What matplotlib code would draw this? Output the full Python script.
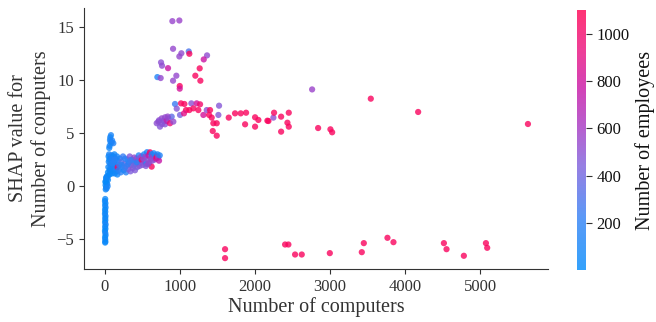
import matplotlib
matplotlib.use("Agg")
import matplotlib.pyplot as plt
from matplotlib.colors import LinearSegmentedColormap
import numpy as np

plt.rcParams['font.family'] = ['Liberation Serif', 'DejaVu Serif']

# number of computers, SHAP value, number of employees (colour)
n_computers = [
    # companies with (almost) no computers
    3, 0, 6, 2, 8, 1, 4, 0, 7, 3, 5, 1, 9, 2, 6, 0, 4, 8, 1, 3, 5, 2,
    10, 15, 8, 20, 12, 25, 18, 30, 35, 40, 22, 28, 45, 5, 15,
    80, 70, 67, 75, 89, 111, 57, 62, 95,
    # dense group below 750
    40, 45, 50, 48, 55, 60, 65, 70, 72, 80, 85, 90, 95, 100, 105, 110, 115,
    120, 125, 130, 135, 140, 150, 155, 160, 165, 170, 58, 75, 88, 108, 128,
    145, 62, 98, 169,
    180, 190, 200, 210, 220, 230, 240, 250, 260, 270, 280, 290, 300, 310,
    320, 330, 340, 350, 360, 370, 380, 390, 400, 410, 420, 430, 440, 450,
    460, 470, 480, 490, 225, 265, 305, 345, 385, 425, 465, 489,
    500, 510, 520, 530, 540, 550, 560, 570, 580, 590, 600, 610, 620, 622,
    630, 640, 650, 660, 670, 680, 689, 700, 710, 720, 730, 545, 575,
    # step up around 700-1000
    689, 711, 733, 756, 778, 800, 800, 822, 844, 867, 889, 911, 720, 760,
    835, 1000,
    933, 956, 1013, 1058, 1080, 1053, 1151, 1178, 1222, 1267, 1244, 1124,
    1311, 1356, 1400, 1520, 1511, 1422, 1387, 1444, 1489, 1436, 1489,
    # high values
    898, 991, 907, 1018, 991, 1116, 1124, 1360, 1316, 747, 760, 840, 1262,
    698, 742, 951, 907, 1204, 1271, 996, 996,
    # large companies
    1649, 1733, 1809, 1880, 1867, 2000, 2044, 2000, 2164, 2178, 2244, 2253,
    2347, 2347, 2449, 2431, 2449, 2840, 3004, 3027, 2760, 3542, 4173, 5636,
    # large companies, negative effect
    1600, 1600, 2400, 2444, 2533, 2622, 2996, 3422, 3449, 3764, 3844, 4516,
    4551, 4782, 5076, 5093,
]

shap_computers = [
    -1.2, -1.4, -1.6, -1.8, -2.0, -2.2, -2.4, -2.6, -2.8, -3.0, -3.2, -3.4,
    -3.6, -3.8, -4.0, -4.2, -4.4, -4.6, -4.8, -5.0, -5.2, -5.3,
    -0.3, -0.1, 0.1, 0.3, 0.5, 0.7, 0.85, 0.2, 0.0, 0.6, -0.2, 0.95, 1.0, 0.4, 0.75,
    4.8, 4.6, 4.35, 4.15, 4.1, 4.04, 3.6, 3.8, 4.3,
    1.3, 1.8, 2.3, 2.8, 3.0, 1.1, 1.6, 2.1, 2.6, 1.4, 2.0, 2.9, 1.2, 1.7, 2.4, 2.8, 1.5,
    2.2, 3.0, 1.2, 1.9, 2.6, 1.4, 2.1, 2.8, 1.1, 2.4, 2.5, 1.9, 2.55, 1.95, 2.5,
    1.7, 1.45, 2.15, 1.78,
    1.5, 2.0, 2.6, 1.3, 2.3, 1.8, 2.8, 1.5, 2.1, 2.6, 1.3, 1.9, 2.5, 1.6,
    2.2, 2.8, 1.4, 2.0, 2.5, 1.7, 2.3, 2.7, 1.5, 2.1, 2.6, 1.8, 2.4, 2.9,
    1.9, 2.5, 2.2, 2.8, 2.0, 1.7, 2.05, 2.45, 1.95, 2.25, 2.65, 2.47,
    2.0, 2.6, 3.0, 2.3, 2.8, 2.1, 3.2, 2.5, 2.9, 2.2, 3.19, 2.6, 3.0, 1.84,
    2.4, 2.8, 3.1, 2.5, 2.9, 2.6, 2.78, 3.0, 2.7, 2.4, 2.9, 1.9, 2.1,
    5.92, 6.07, 5.6, 6.38, 6.13, 6.48, 5.82, 6.13, 6.38, 5.92, 6.54, 6.07, 6.2, 5.85,
    6.55, 6.7,
    7.73, 7.29, 7.79, 7.73, 7.16, 6.85, 7.79, 7.32, 7.79, 7.7, 7.16, 7.16,
    6.7, 7.16, 7.16, 7.57, 6.7, 6.45, 6.7, 5.92, 5.92, 5.19, 4.75,
    15.52, 15.58, 12.92, 12.5, 12.2, 12.67, 12.45, 12.3, 11.92, 11.64, 11.33, 11.1, 11.08,
    10.26, 10.17, 10.39, 9.92, 10.39, 9.92, 9.42, 9.17,
    6.45, 6.85, 6.85, 6.91, 5.82, 6.48, 6.23, 5.6, 6.16, 6.13, 6.45, 6.91,
    6.54, 5.13, 6.91, 5.97, 5.6, 5.47, 5.35, 5.07, 9.1, 8.23, 6.98, 5.85,
    -5.92, -6.76, -5.48, -5.48, -6.42, -6.42, -6.29, -6.2, -5.35, -4.85, -5.26, -5.35,
    -5.92, -6.54, -5.35, -5.79,
]

n_employees = [
    60, 40, 90, 30, 110, 20, 70, 50, 100, 35, 80, 25, 120, 45, 65, 15, 85, 105, 30, 55, 75, 40,
    60, 80, 40, 100, 70, 120, 50, 90, 130, 60, 110, 80, 140, 30, 70,
    120, 90, 100, 130, 110, 150, 80, 95, 140,
    30, 60, 90, 50, 110, 40, 80, 120, 70, 100, 60, 140, 50, 90, 130, 70, 110,
    160, 80, 60, 150, 100, 90, 170, 120, 80, 140, 70, 110, 150, 90, 180,
    130, 60, 170, 1050,
    150, 220, 130, 180, 310, 160, 240, 120, 380, 200, 170, 450, 190, 420,
    150, 480, 440, 510, 210, 470, 160, 530, 460, 180, 500, 420, 540, 150,
    480, 190, 520, 560, 170, 230, 200, 260, 410, 190, 490, 1050,
    470, 500, 150, 520, 550, 160, 120, 480, 780, 500, 1050, 540, 140, 1050,
    520, 560, 130, 500, 160, 800, 1050, 140, 540, 760, 150, 480, 520,
    500, 520, 480, 540, 510, 530, 490, 700, 530, 950, 350, 520, 500, 490,
    540, 420,
    250, 480, 1050, 1050, 1050, 900, 500, 1050, 820, 1000, 1050, 1050,
    820, 520, 1050, 480, 480, 1050, 1050, 1050, 1050, 1050, 1050,
    550, 560, 540, 520, 540, 300, 1050, 520, 780, 500, 520, 780, 1050,
    150, 530, 540, 540, 1050, 1050, 1050, 820,
    1050, 1050, 1050, 1050, 1050, 1050, 1050, 1050, 1050, 1050, 520, 1050,
    1050, 1050, 1050, 1050, 1050, 1050, 1050, 1050, 560, 1050, 1050, 1050,
    1050, 1050, 1050, 1050, 1050, 1050, 1050, 1050, 1050, 1050, 1050, 1050,
    1050, 1050, 1050, 1050,
]

cb_ticks = [200, 400, 600, 800, 1000]

# blue -> purple -> red, similar to the shap palette
red_blue = LinearSegmentedColormap.from_list("red_blue", [
    (0.0, (0 / 255, 139 / 255, 251 / 255)),
    (0.2, (50 / 255, 128 / 255, 245 / 255)),
    (0.4, (125 / 255, 95 / 255, 220 / 255)),
    (0.55, (165 / 255, 55 / 255, 195 / 255)),
    (0.7, (200 / 255, 20 / 255, 165 / 255)),
    (0.85, (235 / 255, 15 / 255, 125 / 255)),
    (1.0, (255 / 255, 0 / 255, 82 / 255)),
])

fig = plt.figure(figsize=(6.56, 3.22), dpi=100)
ax = fig.add_axes([0.128, 0.165, 0.707, 0.81])
cax = fig.add_axes([0.88, 0.161, 0.0135, 0.808])

sc = ax.scatter(n_computers, shap_computers, c=n_employees, cmap=red_blue,
                vmin=2, vmax=1100, s=20, alpha=0.8, linewidths=0)

ax.set_xlim(-280, 5900)
ax.set_ylim(-7.77, 16.75)
ax.set_xticks([0, 1000, 2000, 3000, 4000, 5000])
ax.set_yticks([-5, 0, 5, 10, 15])
ax.spines['top'].set_visible(False)
ax.spines['right'].set_visible(False)
for s in ['left', 'bottom']:
    ax.spines[s].set_color('#333333')
ax.tick_params(labelsize=12, color='#333333', labelcolor='#333333')
ax.set_xlabel("Number of computers", fontsize=14.5, color='#333333', labelpad=2)
ax.set_ylabel("SHAP value for\nNumber of computers", fontsize=14.5, color='#333333')

cb = fig.colorbar(sc, cax=cax)
cb.outline.set_visible(False)
cb.set_ticks(cb_ticks)
cb.ax.tick_params(labelsize=12, length=4, color='#333333', labelcolor='#111111')
cb.set_label("Number of employees", fontsize=14.5, color='#111111')

fig.savefig("out.png", dpi=100)
